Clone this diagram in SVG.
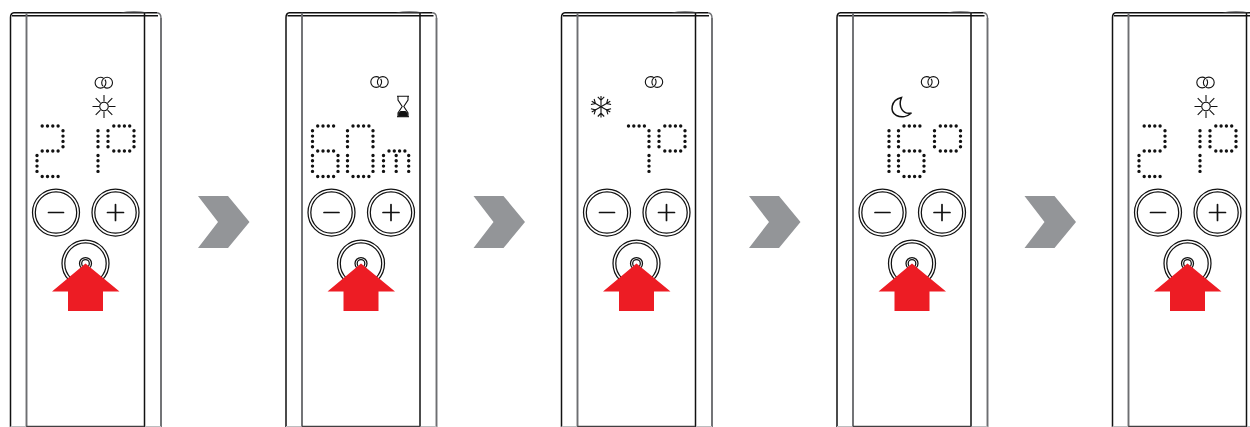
<svg xmlns="http://www.w3.org/2000/svg" width="1250" height="427" viewBox="0 0 1250 427">
<style>
.l{fill:none;stroke:#111;stroke-width:1.5}
.g{fill:none;stroke:#6d6e71;stroke-width:1.9}
.t{fill:none;stroke:#111;stroke-width:1.25}
.s{fill:none;stroke:#111;stroke-width:1.1}
.k{fill:none;stroke:#111;stroke-width:1.7;stroke-linecap:round;stroke-linejoin:round}
.d{fill:none;stroke:#111;stroke-width:3.4;stroke-linecap:round;stroke-dasharray:0 5.3}
.arrow{fill:#ed1c24}
.chev{fill:#939598}
</style>
<defs>
<g id="body">
<path class="l" d="M10.500 427V17.500Q10.500 13 14 12.700H157"/>
<path class="l" d="M12 15.800H158"/>
<path d="M157 12.700Q161 13 161 18" fill="none" stroke="#6d6e71" stroke-width="1.400"/>
<path class="g" d="M161 18V427M26.500 12.700V427"/>
<path class="l" d="M144.500 12.700V427"/>
<path d="M120 12.500Q134 9.800 148 12.500Z" fill="#58595b"/>
<path d="M26.500 426.500H144.500" fill="none" stroke="#414042" stroke-width="1.400"/>
<path d="M10.500 426.500H26M145 426.500H161" fill="none" stroke="#bcbec0" stroke-width="1"/>
<circle class="t" cx="56" cy="212.500" r="23.500"/><circle class="t" cx="56" cy="212.500" r="20.700"/>
<path class="k" d="M48.500 212.500H63.500"/>
<circle class="t" cx="115.500" cy="212.500" r="23.500"/><circle class="t" cx="115.500" cy="212.500" r="20.700"/>
<path class="k" d="M107.500 212.500H123.500M115.500 204.500V220.500"/>
<circle class="t" cx="85.500" cy="263.500" r="23.500"/><circle class="t" cx="85.500" cy="263.500" r="20.700"/>
<circle class="t" cx="85.500" cy="263.500" r="6"/><circle class="t" cx="85.500" cy="263.500" r="3.800"/>
<path class="arrow" d="M85.500 263.500L119.500 291.500H103V311H68V291.500H52Z"/>
</g>
<g id="rings"><circle class="s" cx="-3.300" r="5.400" stroke-dasharray="28.200 1.600 4.100"/><circle class="s" cx="3.300" r="5.400" stroke-dasharray="11.200 1.600 21.100"/></g>
<g id="sun"><circle class="s" r="4.300"/><path class="s" d="M0-5V-11.500M0 5V11.500M-5 0H-11.500M5 0H11.500M-3.600-3.600L-8.300-8.300M3.600-3.600L8.300-8.300M-3.600 3.600L-8.300 8.300M3.600 3.600L8.300 8.300"/></g>
<path id="arm" class="s" d="M0 0V-10.700M-3.200-9.800L0-6.400L3.200-9.800"/>
<path id="tt" class="d" d="M0 0H16"/>
<path id="vv" class="d" d="M0 0V16"/>
<path id="chevron" class="chev" d="M198 196H228L249.500 222L228 248H198L218 222Z"/>
</defs>
<g id="connectors">
<use href="#chevron"/>
<use href="#chevron" x="275.500"/>
<use href="#chevron" x="551"/>
<use href="#chevron" x="826.500"/>
</g>
<g id="device-1">
<use href="#body"/>
<use href="#rings" x="103.800" y="82.700"/>
<use href="#sun" x="104" y="106.500"/>
<use href="#tt" x="42.200" y="126"/><use href="#vv" x="63" y="130.800"/><use href="#tt" x="42.200" y="151"/><use href="#vv" x="37" y="155.500"/><use href="#tt" x="42.200" y="176.500"/>
<use href="#vv" x="98" y="130.800"/><use href="#vv" x="98" y="155.500"/>
<use href="#vv" x="108" y="130.800"/><use href="#tt" x="113.800" y="126"/><use href="#vv" x="134" y="130.800"/><use href="#tt" x="113.800" y="151"/>
</g>
<g id="device-2" transform="translate(275.500 0)">
<use href="#body"/>
<use href="#rings" x="104" y="82"/>
<g transform="translate(127.500 106.500)"><path class="s" d="M-6-10.300H6M-6 10.300H6M-5-10.300V-6.500L-.8 0L-5 6.500V10.300M5-10.300V-6.500L.8 0L5 6.500V10.300"/><path d="M-4.800 10.300V6.800L-2.500 4.500H2.500L4.800 6.800V10.300Z" fill="#111"/></g>
<use href="#tt" x="42.200" y="126"/><use href="#vv" x="37" y="130.800"/><use href="#tt" x="42.200" y="151"/><use href="#vv" x="37" y="155.500"/><use href="#vv" x="62.500" y="155.500"/><use href="#tt" x="42.200" y="176.500"/>
<use href="#tt" x="77.500" y="126"/><use href="#vv" x="72" y="130.800"/><use href="#vv" x="97.500" y="130.800"/><use href="#vv" x="72" y="155.500"/><use href="#vv" x="97.500" y="155.500"/><use href="#tt" x="77.500" y="176.500"/>
<use href="#vv" x="108" y="155.500"/><use href="#vv" x="120.700" y="155.500"/><use href="#vv" x="133.200" y="155.500"/><use href="#tt" x="113.500" y="151"/>
</g>
<g id="device-3" transform="translate(551 0)">
<use href="#body"/>
<use href="#rings" x="103" y="82"/>
<g transform="translate(50 106.700)"><use href="#arm"/><use href="#arm" transform="rotate(60)"/><use href="#arm" transform="rotate(120)"/><use href="#arm" transform="rotate(180)"/><use href="#arm" transform="rotate(240)"/><use href="#arm" transform="rotate(300)"/></g>
<use href="#tt" x="77.500" y="126"/><use href="#vv" x="98" y="130.800"/><use href="#vv" x="98" y="155.500"/>
<use href="#vv" x="108" y="130.800"/><use href="#tt" x="113.800" y="126"/><use href="#vv" x="134" y="130.800"/><use href="#tt" x="113.800" y="151"/>
</g>
<g id="device-4" transform="translate(826.500 0)">
<use href="#body"/>
<use href="#rings" x="103.500" y="82"/>
<path class="l" d="M75 97.500C64 100 63 112 70 115.500C75 117.800 81 116.500 85 113C77 115 71 107 75 97.500Z"/>
<use href="#vv" x="62.500" y="130.800"/><use href="#vv" x="62.500" y="155.500"/>
<use href="#tt" x="77.500" y="126"/><use href="#vv" x="72" y="130.800"/><use href="#tt" x="77.500" y="151"/><use href="#vv" x="72" y="155.500"/><use href="#vv" x="97.500" y="155.500"/><use href="#tt" x="77.500" y="176.500"/>
<use href="#vv" x="108" y="130.800"/><use href="#tt" x="113.800" y="126"/><use href="#vv" x="134" y="130.800"/><use href="#tt" x="113.800" y="151"/>
</g>
<g id="device-5" transform="translate(1102 0)">
<use href="#body"/>
<use href="#rings" x="103.500" y="82.500"/>
<use href="#sun" x="104" y="106.500"/>
<use href="#tt" x="42.200" y="126"/><use href="#vv" x="63" y="130.800"/><use href="#tt" x="42.200" y="151"/><use href="#vv" x="37" y="155.500"/><use href="#tt" x="42.200" y="176.500"/>
<use href="#vv" x="98" y="130.800"/><use href="#vv" x="98" y="155.500"/>
<use href="#vv" x="108" y="130.800"/><use href="#tt" x="113.800" y="126"/><use href="#vv" x="134" y="130.800"/><use href="#tt" x="113.800" y="151"/>
</g>
</svg>
